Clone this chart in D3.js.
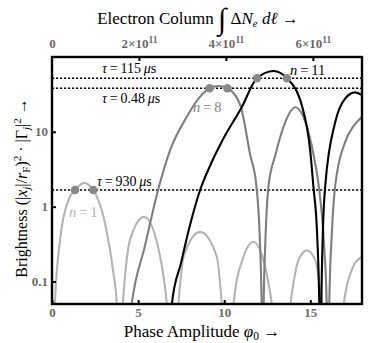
<!DOCTYPE html>
<html><head><meta charset="utf-8">
<script src="https://cdn.jsdelivr.net/npm/d3@7"></script>
<style>
body{margin:0;background:#fff;}
svg{display:block;font-family:"Liberation Serif","DejaVu Serif",serif;}
</style></head>
<body><svg id="c" width="374" height="343"></svg>
<script>
// ---- data ----
const xTicks = [0, 5, 10, 15];
const yTicks = [0.1, 1, 10];
const yTickLabels = ["0.1", "1", "10"];
const topTicks = [0, 2e11, 4e11, 6e11];
const topTickMant = ["0", "2", "4", "6"];

const n1Phi = [0.02,0.17,0.47,0.95,1.34,1.86,2.4,3.08,3.57,3.76,3.83,4.11,4.53,5.35,6.28,6.67,7.02,7.34,7.64,8.6,9.57,9.86,10.17,10.54,11.12,11.7,12.2,12.77,13.32,13.84,14.3,14.8,15.3,15.68,16.47,16.94,17.5,18];
const n1Val = [0.003,0.05,0.36,1.22,1.67,2.08,1.67,0.6,0.128,0.05,0.004,0.05,0.36,0.73,0.214,0.05,0.004,0.05,0.214,0.46,0.214,0.05,0.004,0.05,0.214,0.34,0.22,0.05,0.004,0.05,0.19,0.26,0.19,0.05,0.004,0.05,0.16,0.214];

const n8Phi = [4.3,4.63,5.4,6.16,6.86,7.83,8.6,9.15,9.67,10.19,10.93,11.51,11.86,12.06,12.17,12.23,12.29,12.4,12.58,12.97,13.55,14.13,14.71,15.19,15.48,15.8,15.95,16.04,16.1,16.25,16.45,17.03,17.5,18];
const n8Val = [0.01,0.05,0.3,1.67,5.7,15.9,29.5,38.2,41,38.2,22.8,4.9,1.95,0.41,0.05,0.003,0.05,0.4,1.95,4.9,13.6,21.3,13.6,4.9,1.95,0.3,0.05,0.003,0.05,0.45,1.95,7.4,11.8,15.9];

const n11Phi = [6.7,6.96,7.5,8.0,8.6,9.2,10.0,11.0,11.9,12.87,13.64,14.5,15.0,15.17,15.4,15.52,15.59,15.64,15.72,15.87,16.45,17.03,17.6,18];
const n11Val = [0.01,0.05,0.18,0.55,1.67,3.6,8.5,21,52,65,52,22.8,5.4,1.95,0.4,0.05,0.003,0.05,0.4,1.95,13.6,28,33.7,31];

const tauVals = [52, 38.2, 1.67];
const tauNames = ["115", "0.48", "930"];

const dotPhi = [1.34, 2.4, 9.15, 10.19, 11.9, 13.64];
const dotVal = [1.67, 1.67, 38.2, 38.2, 52, 52];

// ---- layout ----
const L = 52, R = 362, T = 57, B = 304;
const svg = d3.select("#c");
const x = d3.scaleLinear().domain([0, 18]).range([L, R]);
const y = d3.scaleLog().domain([0.05, 100]).range([B, T]);
const xTop = d3.scaleLinear().domain([0, 7.13e11]).range([L, R]);

svg.append("defs").append("clipPath").attr("id", "clip")
  .append("rect").attr("x", L).attr("y", T).attr("width", R - L).attr("height", B - T);

const plot = svg.append("g").attr("clip-path", "url(#clip)");

// tau lines
plot.selectAll(".tau").data(tauVals).join("line")
  .attr("x1", L).attr("x2", R)
  .attr("y1", d => y(d)).attr("y2", d => y(d))
  .attr("stroke", "#000").attr("stroke-width", 1.6).attr("stroke-dasharray", "2.2,1.8");

const line = d3.line().x(d => x(d[0])).y(d => y(d[1])).curve(d3.curveMonotoneX);
const series = [
  {phi: n1Phi, val: n1Val, color: "#b4b4b4"},
  {phi: n8Phi, val: n8Val, color: "#7f7f7f"},
  {phi: n11Phi, val: n11Val, color: "#000"}
];
series.forEach(s => {
  plot.append("path").datum(s.phi.map((p, i) => [p, s.val[i]]))
    .attr("d", line).attr("fill", "none").attr("stroke", s.color)
    .attr("stroke-width", 2.1).attr("stroke-linejoin", "round");
});

plot.selectAll(".dot").data(dotPhi).join("circle")
  .attr("cx", d => x(d)).attr("cy", (d, i) => y(dotVal[i])).attr("r", 4.3)
  .attr("fill", "#888");

// frame
svg.append("rect").attr("x", L).attr("y", T).attr("width", R - L).attr("height", B - T)
  .attr("fill", "none").attr("stroke", "#000").attr("stroke-width", 2.4);

// axes
const tickStyle = g => {
  g.select(".domain").remove();
  g.selectAll(".tick line").attr("stroke", "#000").attr("stroke-width", 2);
  g.selectAll(".tick text").attr("fill", "#6a6a6a").attr("font-weight", "bold")
    .attr("font-size", 13).attr("font-family", "'Liberation Serif',serif");
};
svg.append("g").attr("transform", `translate(0,${B})`)
  .call(d3.axisBottom(x).tickValues(xTicks).tickSizeInner(-4).tickSizeOuter(0).tickPadding(4).tickFormat(d3.format("d")))
  .call(tickStyle);
svg.append("g").attr("transform", `translate(${L},0)`)
  .call(d3.axisLeft(y).tickValues(yTicks).tickSizeInner(-4).tickSizeOuter(0).tickPadding(4)
    .tickFormat((d, i) => yTickLabels[i]))
  .call(tickStyle);
const topAx = svg.append("g").attr("transform", `translate(0,${T})`)
  .call(d3.axisTop(xTop).tickValues(topTicks).tickSizeInner(-4).tickSizeOuter(0).tickPadding(9))
  .call(tickStyle);
topAx.selectAll(".tick text").each(function(d, i) {
  const t = d3.select(this).text(null);
  t.append("tspan").text(topTickMant[i]);
  if (d !== 0) {
    t.append("tspan").text("×10");
    t.append("tspan").attr("dy", -5).attr("font-size", 9.5).text("11");
  }
});
topAx.selectAll(".tick").filter(d => d === 0).select("line").remove();

// tau labels
const tauLab = [
  {txt: "115", x: 102, y: 73},
  {txt: "0.48", x: 102, y: 103},
  {txt: "930", x: 97, y: 186}
];
tauLab.forEach(o => {
  const t = svg.append("text").attr("x", o.x).attr("y", o.y).attr("font-size", 14).attr("fill", "#000");
  t.append("tspan").attr("font-style", "italic").text("τ");
  t.append("tspan").text("\u2009=\u2009" + o.txt + "\u2009");
  t.append("tspan").attr("font-style", "italic").text("μ");
  t.append("tspan").text("s");
});

// n labels
const nLab = [
  {n: "1", x: 69, y: 217, c: "#b4b4b4"},
  {n: "8", x: 193, y: 112, c: "#7f7f7f"},
  {n: "11", x: 290, y: 75, c: "#000"}
];
nLab.forEach(o => {
  const t = svg.append("text").attr("x", o.x).attr("y", o.y).attr("font-size", 14.5).attr("fill", o.c);
  t.append("tspan").attr("font-style", "italic").text("n");
  t.append("tspan").text("\u2009=\u2009" + o.n);
});

// bottom title
{
  const t = svg.append("text").attr("x", 202).attr("y", 337).attr("text-anchor", "middle").attr("font-size", 17);
  t.append("tspan").text("Phase Amplitude ");
  t.append("tspan").attr("font-style", "italic").text("φ");
  t.append("tspan").attr("dy", 3).attr("font-size", 11.5).text("0");
  t.append("tspan").attr("dy", -3).text(" →");
}
// top title
{
  const t = svg.append("text").attr("x", 198).attr("y", 24).attr("text-anchor", "middle").attr("font-size", 17);
  t.append("tspan").text("Electron Column ");
  t.append("tspan").attr("font-size", 30).attr("dy", 5).attr("font-style", "italic").text("∫");
  t.append("tspan").attr("dy", -5).text(" Δ");
  t.append("tspan").attr("font-style", "italic").text("N");
  t.append("tspan").attr("dy", 3).attr("font-size", 11).attr("font-style", "italic").text("e");
  t.append("tspan").attr("dy", -3).attr("font-style", "italic").text(" dℓ");
  t.append("tspan").text(" →");
}
// y title
{
  const t = svg.append("text").attr("transform", "translate(27,188) rotate(-90)")
    .attr("text-anchor", "middle").attr("font-size", 16);
  t.append("tspan").text("Brightness  (|");
  t.append("tspan").attr("font-style", "italic").text("x");
  t.append("tspan").attr("dy", 3).attr("font-size", 11).attr("font-style", "italic").text("j");
  t.append("tspan").attr("dy", -3).text("|/");
  t.append("tspan").attr("font-style", "italic").text("r");
  t.append("tspan").attr("dy", 3).attr("font-size", 11).text("F");
  t.append("tspan").attr("dy", -3).text(")");
  t.append("tspan").attr("dy", -6).attr("font-size", 11).text("2");
  t.append("tspan").attr("dy", 6).text(" · |Γ");
  t.append("tspan").attr("dy", 3).attr("font-size", 11).attr("font-style", "italic").text("j");
  t.append("tspan").attr("dy", -3).text("|");
  t.append("tspan").attr("dy", -6).attr("font-size", 11).text("2");
  t.append("tspan").attr("dy", 6).text("  →");
}
</script></body></html>
